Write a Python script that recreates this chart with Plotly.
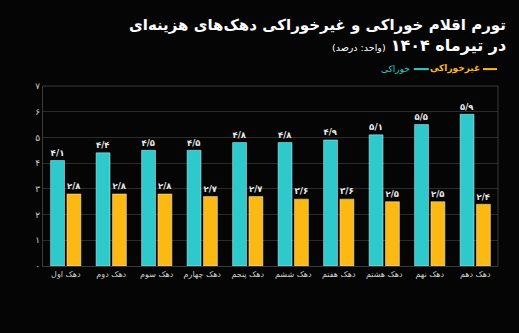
import plotly.graph_objects as go

categories = ["دهک اول", "دهک دوم", "دهک سوم", "دهک چهارم", "دهک پنجم",
              "دهک ششم", "دهک هفتم", "دهک هشتم", "دهک نهم", "دهک دهم"]
food = [4.1, 4.4, 4.5, 4.5, 4.8, 4.8, 4.9, 5.1, 5.5, 5.9]
nonfood = [2.8, 2.8, 2.8, 2.7, 2.7, 2.6, 2.6, 2.5, 2.5, 2.4]
ytick_vals = [0, 1, 2, 3, 4, 5, 6, 7]
ytick_text = ["۰", "۱", "۲", "۳", "۴", "۵", "۶", "۷"]

FA = str.maketrans("0123456789.", "۰۱۲۳۴۵۶۷۸۹/")
def fa(v):
    return "<b>" + f"{v:.1f}".translate(FA) + "</b>"

TEAL = "#2ec9cb"
YELLOW = "#fdb913"
FONT = "DejaVu Sans"

fig = go.Figure()
fig.add_trace(go.Bar(x=categories, y=food, marker_color=TEAL, text=[fa(v) for v in food],
                     textposition="outside", cliponaxis=False,
                     textfont=dict(color="#e8e8e8", size=10.5, family=FONT), name="خوراکی"))
fig.add_trace(go.Bar(x=categories, y=nonfood, marker_color=YELLOW, text=[fa(v) for v in nonfood],
                     textposition="outside", cliponaxis=False,
                     textfont=dict(color="#e8e8e8", size=10.5, family=FONT), name="غیرخوراکی"))

fig.update_layout(
    width=519, height=333,
    margin=dict(l=43, r=21, t=86, b=67),
    paper_bgcolor="#050505", plot_bgcolor="#050505",
    barmode="group", bargap=0.28, bargroupgap=0.15,
    showlegend=False,
    font=dict(family=FONT, color="#dddddd"),
    xaxis=dict(showgrid=False, tickfont=dict(size=8, color="#cfcfcf"), ticks="",
               showline=True, linecolor="#3a3a3a", mirror=False),
    yaxis=dict(range=[0, 7], tickvals=ytick_vals, ticktext=ytick_text,
               tickfont=dict(size=9, color="#cfcfcf"), gridcolor="#2b2b2b", gridwidth=1,
               showline=True, linecolor="#3a3a3a", zeroline=False, ticks=""),
    annotations=[
        dict(text="<b>تورم اقلام خوراکی و غیرخوراکی دهک‌های هزینه‌ای</b>", xref="paper", yref="paper",
             x=1.022, y=1.0, xanchor="right", yanchor="bottom", yshift=50, showarrow=False,
             font=dict(size=15, color="#ffffff", family=FONT)),
        dict(text="<b>در تیرماه ۱۴۰۴</b> <span style='font-size:9.5px'>(واحد: درصد)</span>", xref="paper", yref="paper",
             x=1.022, y=1.0, xanchor="right", yanchor="bottom", yshift=29, showarrow=False,
             font=dict(size=16, color="#ffffff", family=FONT)),
        dict(text="<b>غیرخوراکی</b>", xref="paper", yref="paper",
             x=0.965, y=1.0, xanchor="right", yanchor="bottom", yshift=10, showarrow=False,
             font=dict(size=9, color=YELLOW, family=FONT)),
        dict(text="خوراکی", xref="paper", yref="paper",
             x=0.811, y=1.0, xanchor="right", yanchor="bottom", yshift=10, showarrow=False,
             font=dict(size=9, color=TEAL, family=FONT)),
    ],
    shapes=[
        dict(type="line", xref="paper", yref="paper", x0=0, x1=1, y0=1, y1=1, line=dict(color="#3a3a3a", width=1)),
        dict(type="line", xref="paper", yref="paper", x0=1, x1=1, y0=0, y1=1, line=dict(color="#3a3a3a", width=1)),
        dict(type="line", xref="paper", yref="y domain", x0=0.967, x1=0.998, y0=1.094, y1=1.094, line=dict(color=YELLOW, width=2)),
        dict(type="line", xref="paper", yref="y domain", x0=0.815, x1=0.848, y0=1.094, y1=1.094, line=dict(color=TEAL, width=2)),
    ],
)

fig.write_html("out.html")
